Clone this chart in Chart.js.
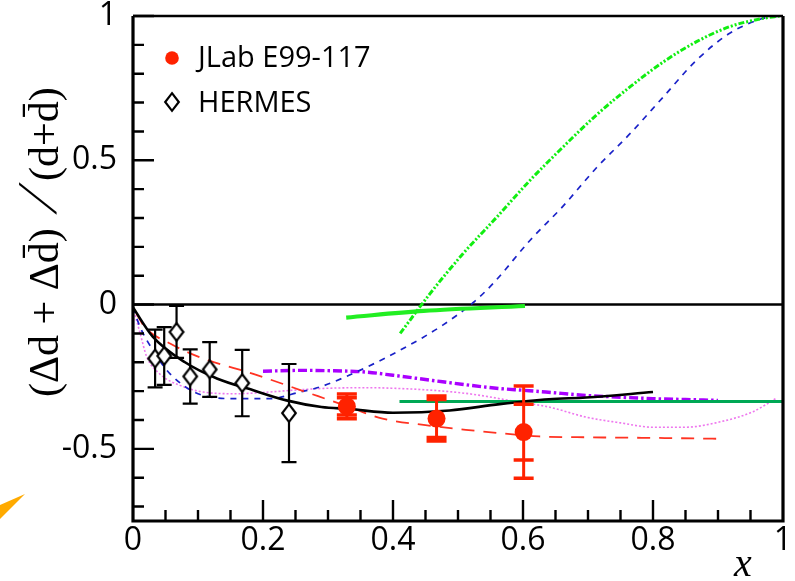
<!DOCTYPE html>
<html>
<head>
<meta charset="utf-8">
<script src="https://cdn.jsdelivr.net/npm/chart.js@4.4.1/dist/chart.umd.min.js"></script>
<style>
  html, body { margin: 0; padding: 0; background: #fff; }
  canvas { display: block; }
</style>
</head>
<body>
<canvas id="c" width="795" height="581"></canvas>
<script>
// ---- measured points ----
const jlabX     = [0.329, 0.467, 0.601];
const jlabY     = [-0.353, -0.395, -0.442];
const jlabStat  = [0.030, 0.066, 0.097];
const jlabTotal = [0.043, 0.078, 0.160];

const hermesX   = [0.034, 0.048, 0.067, 0.088, 0.118, 0.168, 0.240];
const hermesY   = [-0.187, -0.178, -0.095, -0.249, -0.225, -0.272, -0.376];
const hermesErr = [0.100, 0.100, 0.090, 0.094, 0.095, 0.115, 0.170];

// ---- model curves ----
const solidBlackX = [0.0, 0.03, 0.08, 0.13, 0.185, 0.236, 0.29, 0.333, 0.40, 0.487, 0.564, 0.64, 0.697, 0.80];
const solidBlackY = [-0.01, -0.11, -0.20, -0.257, -0.297, -0.332, -0.355, -0.362, -0.375, -0.367, -0.345, -0.328, -0.322, -0.303];

const redDashX = [0.005, 0.018, 0.057, 0.108, 0.185, 0.266, 0.32, 0.384, 0.45, 0.512, 0.57, 0.625, 0.70, 0.80, 0.90];
const redDashY = [-0.03, -0.078, -0.135, -0.187, -0.24, -0.303, -0.345, -0.395, -0.418, -0.434, -0.447, -0.457, -0.460, -0.462, -0.465];

const blueDashX = [0.0, 0.011, 0.031, 0.057, 0.108, 0.159, 0.21, 0.257, 0.287, 0.349, 0.42, 0.476, 0.524, 0.554, 0.611, 0.662, 0.713, 0.765, 0.816, 0.867, 0.918, 0.970, 0.995];
const blueDashY = [-0.01, -0.078, -0.159, -0.24, -0.315, -0.326, -0.326, -0.303, -0.286, -0.228, -0.147, -0.072, 0.008, 0.073, 0.223, 0.342, 0.474, 0.593, 0.72, 0.847, 0.94, 0.992, 1.0];

const greenDotDashX = [0.411, 0.457, 0.508, 0.560, 0.611, 0.662, 0.713, 0.765, 0.816, 0.867, 0.918, 0.970, 0.995];
const greenDotDashY = [-0.10, 0.038, 0.177, 0.304, 0.431, 0.547, 0.657, 0.755, 0.841, 0.911, 0.963, 0.992, 1.0];

const greenShortX = [0.328, 0.447, 0.603];
const greenShortY = [-0.045, -0.022, -0.005];

const darkGreenX = [0.41, 1.0];
const darkGreenY = [-0.336, -0.336];

const purpleX = [0.20, 0.257, 0.30, 0.359, 0.40, 0.461, 0.52, 0.564, 0.60, 0.635, 0.697, 0.75, 0.80, 0.85, 0.90];
const purpleY = [-0.231, -0.228, -0.229, -0.234, -0.245, -0.263, -0.28, -0.291, -0.297, -0.303, -0.315, -0.321, -0.326, -0.329, -0.332];

const pinkDotX = [0.0, 0.011, 0.021, 0.041, 0.072, 0.108, 0.159, 0.21, 0.257, 0.30, 0.359, 0.40, 0.461, 0.52, 0.594, 0.64, 0.697, 0.75, 0.80, 0.85, 0.902, 0.953, 0.991];
const pinkDotY = [-0.01, -0.10, -0.18, -0.24, -0.28, -0.303, -0.309, -0.303, -0.295, -0.29, -0.288, -0.29, -0.297, -0.31, -0.338, -0.355, -0.39, -0.41, -0.425, -0.425, -0.407, -0.372, -0.323];

// ---- axis ticks ----
const xTickValues = [0, 0.2, 0.4, 0.6, 0.8, 1];
const yTickValues = [-0.5, 0, 0.5, 1];

const pts = (xs, ys) => xs.map((x, i) => ({ x: x, y: ys[i] }));

// open diamond marker
function diamondMarker(w, h, lw) {
  const c = document.createElement('canvas');
  c.width = Math.ceil(w + lw * 2);
  c.height = Math.ceil(h + lw * 2);
  const g = c.getContext('2d');
  g.beginPath();
  g.moveTo(c.width / 2, lw);
  g.lineTo(c.width - lw, c.height / 2);
  g.lineTo(c.width / 2, c.height - lw);
  g.lineTo(lw, c.height / 2);
  g.closePath();
  g.fillStyle = '#ffffff';
  g.fill();
  g.lineWidth = lw;
  g.strokeStyle = '#000000';
  g.stroke();
  return c;
}
const diamond = diamondMarker(13, 17, 2.2);
const RED = '#ff2200';

function curve(label, xs, ys, color, width, dash) {
  return {
    label: label,
    data: pts(xs, ys),
    showLine: true,
    pointRadius: 0,
    borderColor: color,
    backgroundColor: color,
    borderWidth: width,
    borderDash: dash || [],
    cubicInterpolationMode: 'monotone',
    fill: false
  };
}

const datasets = [
  {
    label: 'JLab E99-117',
    data: pts(jlabX, jlabY),
    showLine: false,
    pointStyle: 'circle',
    pointRadius: 9,
    backgroundColor: RED,
    borderColor: RED,
    borderWidth: 0,
    errStat: jlabStat,
    errTotal: jlabTotal
  },
  {
    label: 'HERMES',
    data: pts(hermesX, hermesY),
    showLine: false,
    pointStyle: diamond,
    pointRadius: 9,
    err: hermesErr
  },
  curve('solid', solidBlackX, solidBlackY, '#000000', 2.6),
  curve('long dash', redDashX, redDashY, '#ff3322', 1.8, [13, 9]),
  curve('short solid', greenShortX, greenShortY, '#22ee22', 4.2),
  curve('dash dot dot', greenDotDashX, greenDotDashY, '#11ee11', 3, [6, 2, 2, 2, 2, 2]),
  curve('short dash', blueDashX, blueDashY, '#1a22c8', 1.7, [6, 6]),
  curve('flat', darkGreenX, darkGreenY, '#00a855', 3),
  curve('dash dot', purpleX, purpleY, '#aa00ff', 3.4, [9, 3, 2.5, 3]),
  curve('dotted', pinkDotX, pinkDotY, '#ee77ee', 1.6, [2, 2])
];

const fmt = v => {
  const r = Math.round(v * 10) / 10;
  if (r === 0) return '0';
  if (r === 1) return '1';
  return String(r);
};

// error bars drawn just under their markers
const errorBars = {
  id: 'errorBars',
  beforeDatasetDraw(chart, args) {
    const ds = chart.data.datasets[args.index];
    if (!ds.err && !ds.errStat) return;
    const ctx = chart.ctx;
    const xs = chart.scales.x, ys = chart.scales.y;
    ctx.save();
    ds.data.forEach((p, i) => {
      const px = xs.getPixelForValue(p.x);
      if (ds.err) {
        const t = ys.getPixelForValue(p.y + ds.err[i]);
        const b = ys.getPixelForValue(p.y - ds.err[i]);
        ctx.strokeStyle = '#000';
        ctx.lineWidth = 2.2;
        ctx.beginPath();
        ctx.moveTo(px, t); ctx.lineTo(px, b);
        ctx.moveTo(px - 7.5, t); ctx.lineTo(px + 7.5, t);
        ctx.moveTo(px - 7.5, b); ctx.lineTo(px + 7.5, b);
        ctx.stroke();
      } else {
        const t2 = ys.getPixelForValue(p.y + ds.errTotal[i]);
        const b2 = ys.getPixelForValue(p.y - ds.errTotal[i]);
        const t1 = ys.getPixelForValue(p.y + ds.errStat[i]);
        const b1 = ys.getPixelForValue(p.y - ds.errStat[i]);
        ctx.strokeStyle = RED;
        ctx.lineWidth = 3;
        ctx.beginPath();
        ctx.moveTo(px, t2); ctx.lineTo(px, b2);
        ctx.stroke();
        ctx.lineWidth = 3.5;
        ctx.beginPath();
        [t1, b1, t2, b2].forEach(yy => { ctx.moveTo(px - 10, yy); ctx.lineTo(px + 10, yy); });
        ctx.stroke();
      }
    });
    ctx.restore();
  }
};

// frame, inward ticks, zero line, titles, legend
const decorations = {
  id: 'decorations',
  beforeDatasetsDraw(chart) {
    const ctx = chart.ctx;
    const a = chart.chartArea;
    const y0 = chart.scales.y.getPixelForValue(0);
    ctx.save();
    ctx.strokeStyle = '#000';
    ctx.lineWidth = 2.6;
    ctx.beginPath();
    ctx.moveTo(a.left, y0); ctx.lineTo(a.right, y0);
    ctx.stroke();
    ctx.restore();
  },
  afterDraw(chart) {
    const ctx = chart.ctx;
    const a = chart.chartArea;
    const xs = chart.scales.x, ys = chart.scales.y;
    ctx.save();
    ctx.strokeStyle = '#000';
    ctx.lineCap = 'butt';

    // ticks on the left axis, every 0.1
    ctx.lineWidth = 2.4;
    ctx.beginPath();
    for (let k = Math.ceil(ys.min * 10); k <= Math.floor(ys.max * 10); k++) {
      const py = ys.getPixelForValue(k / 10);
      const len = (k % 5 === 0) ? 21 : 11;
      ctx.moveTo(a.left, py); ctx.lineTo(a.left + len, py);
    }
    // ticks on the bottom axis, every 0.05
    for (let k = 1; k < 20; k++) {
      const px = xs.getPixelForValue(k / 20);
      const len = (k % 4 === 0) ? 21 : 11;
      ctx.moveTo(px, a.bottom); ctx.lineTo(px, a.bottom - len);
    }
    ctx.stroke();

    // frame
    ctx.lineWidth = 3.2;
    ctx.beginPath();
    ctx.moveTo(a.left, a.top); ctx.lineTo(a.left, a.bottom); ctx.lineTo(a.right, a.bottom); ctx.lineTo(a.right, a.top);
    ctx.stroke();
    ctx.lineWidth = 2.3;
    ctx.beginPath();
    ctx.moveTo(a.left, a.top); ctx.lineTo(a.right, a.top);
    ctx.stroke();

    // legend
    ctx.fillStyle = RED;
    ctx.beginPath();
    ctx.arc(a.left + 39, 58, 6.8, 0, Math.PI * 2);
    ctx.fill();
    ctx.drawImage(diamond, a.left + 39 - diamond.width / 2, 102 - diamond.height / 2);
    ctx.fillStyle = '#000';
    ctx.font = '29px "Open Sans"';
    ctx.textAlign = 'left';
    ctx.textBaseline = 'alphabetic';
    ctx.fillText(chart.data.datasets[0].label, a.left + 65, 67);
    ctx.fillText(chart.data.datasets[1].label, a.left + 65, 112);

    // x axis title
    ctx.font = 'italic 40px "Liberation Serif"';
    ctx.textAlign = 'center';
    ctx.fillText('x', 743, 576);

    // y axis title (rotated)
    ctx.save();
    ctx.translate(47, 0);
    ctx.rotate(-Math.PI / 2);
    ctx.textBaseline = 'middle';
    ctx.textAlign = 'left';
    ctx.font = '42px "Liberation Serif"';
    ctx.fillText('(\u0394d + \u0394d\u0304)', -397, 0);
    ctx.fillText('(d+d\u0304)', -181, 0);
    ctx.save();
    ctx.translate(-200, -6);
    ctx.transform(1, 0, -0.45, 1, 0, 0);
    ctx.font = '56px "Liberation Serif"';
    ctx.textAlign = 'center';
    ctx.fillText('/', 0, 0);
    ctx.restore();
    ctx.restore();

    // orange wedge in the lower-left corner
    ctx.fillStyle = '#ffaa00';
    ctx.beginPath();
    ctx.moveTo(25, 494); ctx.lineTo(0, 505); ctx.lineTo(0, 519);
    ctx.closePath();
    ctx.fill();
    ctx.restore();
  }
};

new Chart(document.getElementById('c'), {
  type: 'scatter',
  data: { datasets: datasets },
  options: {
    responsive: false,
    devicePixelRatio: 1,
    animation: false,
    layout: { padding: { top: 16, right: 12, left: 0, bottom: 0 } },
    plugins: { legend: { display: false }, tooltip: { enabled: false } },
    scales: {
      x: {
        type: 'linear', min: 0, max: 1,
        grid: { display: false, drawTicks: false },
        border: { display: false },
        afterBuildTicks: s => { s.ticks = xTickValues.map(v => ({ value: v })); },
        afterFit: s => { s.height = 60; s.paddingLeft = 0; s.paddingRight = 0; },
        ticks: {
          autoSkip: false, maxRotation: 0, padding: 4,
          color: '#000', font: { family: 'Open Sans', size: 32, lineHeight: 1 },
          callback: v => fmt(v)
        }
      },
      y: {
        type: 'linear', min: -0.75, max: 1,
        grid: { display: false, drawTicks: false },
        border: { display: false },
        afterBuildTicks: s => { s.ticks = yTickValues.map(v => ({ value: v })); },
        afterFit: s => { s.width = 133; s.paddingTop = 0; s.paddingBottom = 0; },
        ticks: {
          autoSkip: false, padding: 16,
          color: '#000', font: { family: 'Open Sans', size: 32, lineHeight: 1 },
          callback: v => fmt(v)
        }
      }
    }
  },
  plugins: [errorBars, decorations]
});
</script>
</body>
</html>
